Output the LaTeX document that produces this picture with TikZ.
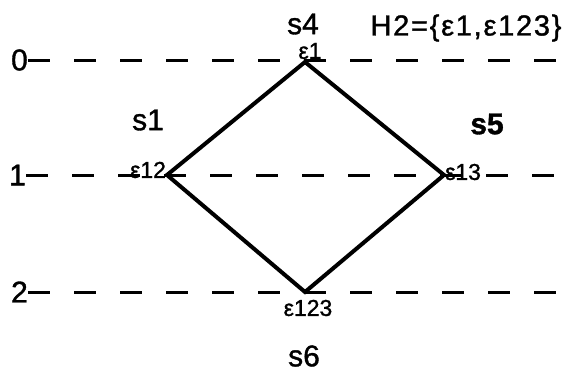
\documentclass[tikz,border=0pt]{standalone}
\usepackage{fontspec}
\setmainfont[FakeBold=1.2]{Liberation Sans}
\newfontfamily\wideface[LetterSpace=6,FakeBold=1.2]{Liberation Sans}

\begin{document}
\begin{tikzpicture}[x=1pt,y=-1pt,
  lbl/.style={inner sep=0pt,font=\fontsize{30}{32}\selectfont},
  vlbl/.style={inner sep=0pt,font=\fontsize{23}{25}\selectfont},
  level/.style={line width=3pt,dash pattern=on 22pt off 24pt},
  edge/.style={line width=4pt,line join=miter}]
\useasboundingbox (0,0) rectangle (575,375);
% levels
\node[lbl,anchor=east] (l0) at (28,60) {0};
\node[lbl,anchor=east] (l1) at (26,175) {1};
\node[lbl,anchor=east] (l2) at (28,292) {2};
\coordinate (r0) at (575,60);
\coordinate (r1) at (575,175);
\coordinate (r2) at (575,292);
\draw[level] (l0.east) -- (r0);
\draw[level] (l1.east) -- (r1);
\draw[level] (l2.east) -- (r2);
% lattice
\coordinate (e1) at (305,62);
\coordinate (e12) at (167,175);
\coordinate (e13) at (444,175);
\coordinate (e123) at (305,292);
\draw[edge] (e1) -- (e12) -- (e123) -- (e13) -- cycle;
\node[vlbl] (t1) at (310,51) {ε1};
\node[vlbl] (t12) at (148,170) {ε12};
\node[vlbl] (t13) at (463,172) {ε13};
\node[vlbl] (t123) at (308,308) {ε123};
% states
\node[lbl] (s4) at (303,24) {s4};
\node[lbl] (s1) at (148,120) {s1};
\node[lbl,font=\fontsize{30}{32}\bfseries] (s5) at (487,124) {s5};
\node[lbl] (s6) at (304,356) {s6};
\node[lbl,font=\fontsize{29}{31}\wideface] (h2) at (466,28) {H2=\{ε1,ε123\}};
\end{tikzpicture}
\end{document}
